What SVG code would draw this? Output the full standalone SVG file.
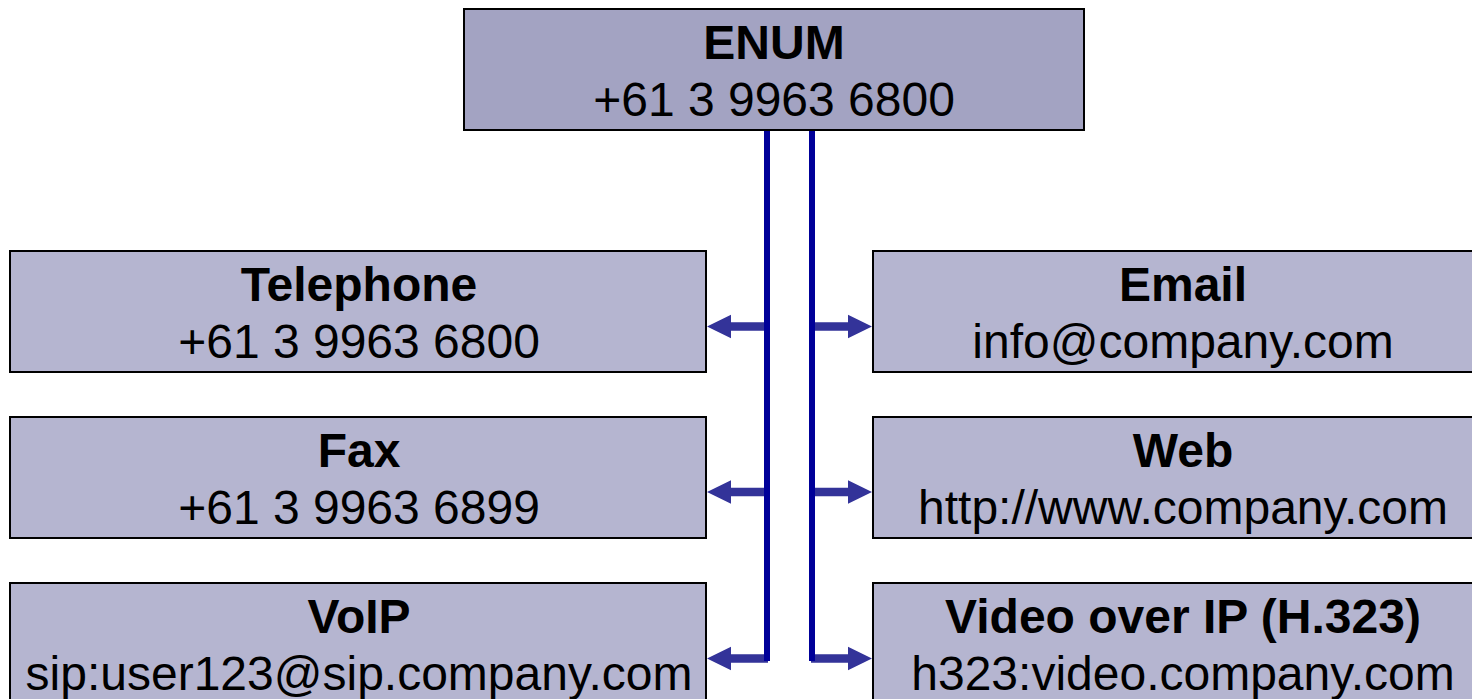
<svg xmlns="http://www.w3.org/2000/svg" width="1472" height="699" viewBox="0 0 1472 699">
<defs>
<style>
.box{fill:#b5b5d0;stroke:#000;stroke-width:2}
.top{fill:#a3a3c2;stroke:#000;stroke-width:2}
.t{font-family:"Liberation Sans",Arial,sans-serif;font-size:48px;font-weight:bold;text-anchor:middle;fill:#000}
.s{font-family:"Liberation Sans",Arial,sans-serif;font-size:48px;text-anchor:middle;fill:#000}
.line{stroke:#000099;stroke-width:6;fill:none}
.arr{fill:#333399}
</style>
</defs>
<rect width="1472" height="699" fill="#fff"/>
<g id="connectors">
<polygon class="arr" points="707,326.5 731,314.8 731,322.2 768,322.2 768,330.8 731,330.8 731,338.2"/>
<polygon class="arr" points="707,492 731,480.3 731,487.7 768,487.7 768,496.3 731,496.3 731,503.7"/>
<polygon class="arr" points="707,658.5 731,646.8 731,654.2 768,654.2 768,662.8 731,662.8 731,670.2"/>
<polygon class="arr" points="872,326.5 848,314.8 848,322.2 811,322.2 811,330.8 848,330.8 848,338.2"/>
<polygon class="arr" points="872,492 848,480.3 848,487.7 811,487.7 811,496.3 848,496.3 848,503.7"/>
<polygon class="arr" points="872,658.5 848,646.8 848,654.2 811,654.2 811,662.8 848,662.8 848,670.2"/>
<line class="line" x1="767" y1="130" x2="767" y2="661"/>
<line class="line" x1="812" y1="130" x2="812" y2="661"/>
</g>
<g id="enum">
<rect class="top" x="464" y="9" width="620" height="121"/>
<text class="t" x="774" y="59">ENUM</text>
<text class="s" x="774" y="116">+61 3 9963 6800</text>
</g>
<g id="telephone">
<rect class="box" x="10" y="251" width="696" height="121"/>
<text class="t" x="359" y="301">Telephone</text>
<text class="s" x="359" y="358">+61 3 9963 6800</text>
</g>
<g id="fax">
<rect class="box" x="10" y="417" width="696" height="121"/>
<text class="t" x="359" y="467">Fax</text>
<text class="s" x="359" y="524">+61 3 9963 6899</text>
</g>
<g id="voip">
<rect class="box" x="10" y="583" width="696" height="130"/>
<text class="t" x="359" y="633">VoIP</text>
<text class="s" x="359" y="690">sip:user123@sip.company.com</text>
</g>
<g id="email">
<rect class="box" x="873" y="251" width="630" height="121"/>
<text class="t" x="1183" y="301">Email</text>
<text class="s" x="1183" y="358">info@company.com</text>
</g>
<g id="web">
<rect class="box" x="873" y="417" width="630" height="121"/>
<text class="t" x="1183" y="467">Web</text>
<text class="s" x="1183" y="524">http://www.company.com</text>
</g>
<g id="video">
<rect class="box" x="873" y="583" width="630" height="130"/>
<text class="t" x="1183" y="633">Video over IP (H.323)</text>
<text class="s" x="1183" y="690">h323:video.company.com</text>
</g>
</svg>
